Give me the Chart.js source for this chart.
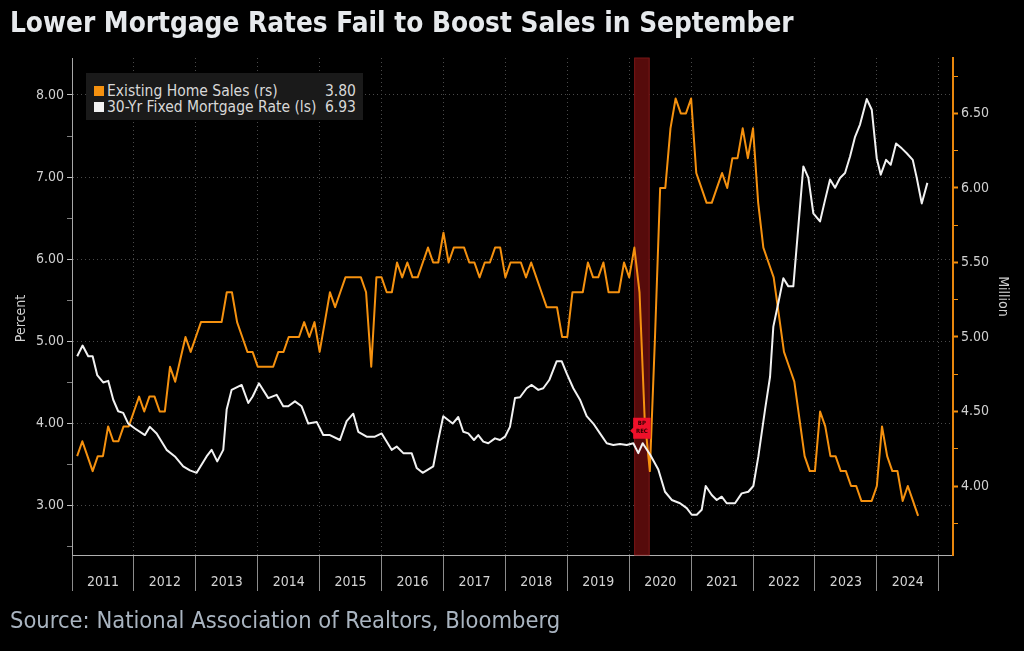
<!DOCTYPE html>
<html lang="en">
<head>
<meta charset="UTF-8">
<title>Lower Mortgage Rates Fail to Boost Sales in September</title>
<script src="https://cdn.jsdelivr.net/npm/chart.js"></script>
<style>
  body { margin: 0; background: #000; }
  #wrap { position: relative; width: 1024px; height: 651px; background: #000; overflow: hidden; }
  #chart { position: absolute; left: 0; top: 0; }
  .title {
    position: absolute; left: 10px; top: 6px; line-height: 32px;
    font: bold 27.7px 'DejaVu Sans Condensed', 'DejaVu Sans', sans-serif;
    color: #e6e9ec; white-space: nowrap;
  }
  .source {
    position: absolute; left: 10px; top: 606px; line-height: 28px;
    font: 23.5px 'DejaVu Sans Condensed', 'DejaVu Sans', sans-serif;
    color: #a9b4c0; white-space: nowrap;
  }
  .legend {
    position: absolute; left: 86px; top: 73px; width: 277px; height: 47px;
    box-sizing: border-box; padding: 10px 7px 0 8px; background: #1a1a1a;
    font: 15.5px 'DejaVu Sans Condensed', 'DejaVu Sans', sans-serif; color: #d8d8d8;
  }
  .legend .row { display: flex; align-items: center; height: 16px; white-space: nowrap; }
  .legend .sw { width: 10px; height: 10px; margin-right: 3px; flex: none; }
  .legend .name { flex: 1; }
</style>
</head>
<body>
<div id="wrap">
  <canvas id="chart" width="1024" height="651"></canvas>
  <div class="title">Lower Mortgage Rates Fail to Boost Sales in September</div>
  <div class="legend" id="legend"></div>
  <div class="source">Source: National Association of Realtors, Bloomberg</div>
</div>

<script>
  const FONT = "'DejaVu Sans Condensed', 'DejaVu Sans', sans-serif";
  const ORANGE = '#f5910f';
  const WHITE = '#f2f2f2';
  const GRID = '#4a4a4a';

  // x axis labels (one per year, drawn between the year boundaries)
  const yearLabels = ['2011', '2012', '2013', '2014', '2015', '2016', '2017',
                      '2018', '2019', '2020', '2021', '2022', '2023', '2024'];
  const leftTicks = [2.5, 3, 3.5, 4, 4.5, 5, 5.5, 6, 6.5, 7, 7.5, 8];
  const rightTicks = [3.75, 4, 4.25, 4.5, 4.75, 5, 5.25, 5.5, 5.75, 6, 6.25, 6.5, 6.75];
  const recession = [2020.08, 2020.33];

  // Existing home sales, million (monthly, Feb 2011 .. Sep 2024)
  const salesStart = [2011, 2];
  const salesValues = [
    4.2, 4.3, 4.2, 4.1, 4.2, 4.2, 4.4, 4.3, 4.3, 4.4, 4.4,
    4.5, 4.6, 4.5, 4.6, 4.6, 4.5, 4.5, 4.8, 4.7, 4.85, 5.0, 4.9,
    5.0, 5.1, 5.1, 5.1, 5.1, 5.1, 5.3, 5.3, 5.1, 5.0, 4.9, 4.9,
    4.8, 4.8, 4.8, 4.8, 4.9, 4.9, 5.0, 5.0, 5.0, 5.1, 5.0, 5.1,
    4.9, 5.1, 5.3, 5.2, 5.3, 5.4, 5.4, 5.4, 5.4, 5.3, 4.8, 5.4,
    5.4, 5.3, 5.3, 5.5, 5.4, 5.5, 5.4, 5.4, 5.5, 5.6, 5.5, 5.5,
    5.7, 5.5, 5.6, 5.6, 5.6, 5.5, 5.5, 5.4, 5.5, 5.5, 5.6, 5.6,
    5.4, 5.5, 5.5, 5.5, 5.4, 5.5, 5.4, 5.3, 5.2, 5.2, 5.2, 5.0,
    5.0, 5.3, 5.3, 5.3, 5.5, 5.4, 5.4, 5.5, 5.3, 5.3, 5.3, 5.5,
    5.4, 5.6, 5.3, 4.45, 4.1, 5.0, 6.0, 6.0, 6.4, 6.6, 6.5, 6.5,
    6.6, 6.1, 6.0, 5.9, 5.9, 6.0, 6.1, 6.0, 6.2, 6.2, 6.4, 6.2,
    6.4, 5.9, 5.6, 5.5, 5.4, 5.15, 4.9, 4.8, 4.7, 4.45, 4.2, 4.1,
    4.1, 4.5, 4.4, 4.2, 4.2, 4.1, 4.1, 4.0, 4.0, 3.9, 3.9, 3.9,
    4.0, 4.4, 4.2, 4.1, 4.1, 3.9, 4.0, 3.9, 3.8
  ];

  // 30-year fixed mortgage rate, percent (dates as decimal years)
  const rateDates = [
    2011.084, 2011.171, 2011.262, 2011.333, 2011.407, 2011.504, 2011.585, 2011.666, 2011.746, 2011.827, 2011.908,
    2012.016, 2012.178, 2012.258, 2012.367, 2012.528, 2012.662, 2012.796, 2012.905,
    2013.013, 2013.174, 2013.255, 2013.346, 2013.443, 2013.498, 2013.578, 2013.740, 2013.847, 2013.918,
    2014.019, 2014.170, 2014.305, 2014.412, 2014.493, 2014.601, 2014.709, 2014.816, 2014.952,
    2015.058, 2015.166, 2015.328, 2015.436, 2015.543, 2015.624, 2015.759, 2015.893,
    2016.002, 2016.163, 2016.244, 2016.351, 2016.486, 2016.567, 2016.664, 2016.835, 2016.916, 2016.997,
    2017.149, 2017.239, 2017.320, 2017.401, 2017.493, 2017.562, 2017.643, 2017.724, 2017.832, 2017.913, 2017.994,
    2018.074, 2018.155, 2018.236, 2018.344, 2018.425, 2018.532, 2018.612, 2018.709, 2018.829, 2018.909, 2018.990,
    2019.097, 2019.205, 2019.313, 2019.420, 2019.528, 2019.637, 2019.743, 2019.852, 2019.960,
    2020.066, 2020.147, 2020.218, 2020.339, 2020.470, 2020.578, 2020.687, 2020.821, 2020.929,
    2021.010, 2021.091, 2021.171, 2021.236, 2021.333, 2021.414, 2021.494, 2021.575, 2021.709, 2021.817, 2021.924,
    2022.005, 2022.086, 2022.194, 2022.275, 2022.328, 2022.409, 2022.490, 2022.570, 2022.651, 2022.732, 2022.813, 2022.894, 2022.974,
    2023.082, 2023.163, 2023.244, 2023.325, 2023.405, 2023.486, 2023.567, 2023.648, 2023.728, 2023.837, 2023.918, 2023.998,
    2024.063, 2024.149, 2024.224, 2024.310, 2024.402, 2024.483, 2024.580, 2024.645, 2024.725, 2024.816
  ];
  const rateValues = [
    4.82, 4.95, 4.82, 4.82, 4.59, 4.50, 4.52, 4.29, 4.15, 4.13, 4.00,
    3.94, 3.86, 3.96, 3.88, 3.68, 3.60, 3.48, 3.43,
    3.40, 3.60, 3.68, 3.54, 3.68, 4.17, 4.41, 4.47, 4.25, 4.33,
    4.49, 4.31, 4.35, 4.21, 4.21, 4.27, 4.21, 4.00, 4.02,
    3.86, 3.86, 3.80, 4.03, 4.12, 3.90, 3.84, 3.84,
    3.88, 3.68, 3.72, 3.64, 3.64, 3.46, 3.40, 3.48, 3.80, 4.09,
    4.00, 4.08, 3.90, 3.88, 3.80, 3.86, 3.78, 3.76, 3.82, 3.80, 3.84,
    3.96, 4.31, 4.32, 4.43, 4.47, 4.41, 4.43, 4.53, 4.76, 4.76, 4.61,
    4.43, 4.29, 4.09, 4.00, 3.88, 3.76, 3.74, 3.75, 3.74,
    3.76, 3.64, 3.76, 3.62, 3.44, 3.17, 3.07, 3.03, 2.97,
    2.89, 2.89, 2.95, 3.24, 3.13, 3.07, 3.11, 3.03, 3.03, 3.15, 3.17,
    3.24, 3.60, 4.17, 4.57, 5.18, 5.47, 5.77, 5.67, 5.67, 6.40, 7.13, 6.99, 6.56,
    6.46, 6.72, 6.97, 6.87, 6.99, 7.05, 7.25, 7.49, 7.64, 7.95, 7.82, 7.23,
    7.03, 7.21, 7.15, 7.41, 7.35, 7.29, 7.21, 6.99, 6.68, 6.93
  ];

  const salesPoints = salesValues.map((v, i) => ({
    x: salesStart[0] + (salesStart[1] - 1 + i) / 12, y: v
  }));
  const ratePoints = rateDates.map((d, i) => ({ x: d, y: rateValues[i] }));

  // legend with last values
  const legendRows = [
    { color: ORANGE, name: 'Existing Home Sales (rs)', last: salesValues[salesValues.length - 1] },
    { color: WHITE, name: '30-Yr Fixed Mortgage Rate (ls)', last: rateValues[rateValues.length - 1] }
  ];
  document.getElementById('legend').innerHTML = legendRows.map(r =>
    `<div class="row"><span class="sw" style="background:${r.color}"></span>` +
    `<span class="name">${r.name}</span><span class="val">${r.last.toFixed(2)}</span></div>`
  ).join('');

  // shaded recession band + REC flag
  const recessionBand = {
    id: 'recessionBand',
    beforeDatasetsDraw(chart) {
      const { ctx, chartArea } = chart;
      const xs = chart.scales.x;
      const x0 = xs.getPixelForValue(recession[0]);
      const x1 = xs.getPixelForValue(recession[1]);
      ctx.save();
      ctx.fillStyle = '#560b0b';
      ctx.fillRect(x0, chartArea.top, x1 - x0, chartArea.bottom - chartArea.top);
      ctx.strokeStyle = '#781616';
      ctx.lineWidth = 1;
      ctx.strokeRect(x0 + 0.5, chartArea.top, x1 - x0 - 1, chartArea.bottom - chartArea.top);
      ctx.restore();
    },
    afterDatasetsDraw(chart) {
      const { ctx } = chart;
      const xs = chart.scales.x;
      const x0 = xs.getPixelForValue(recession[0]) - 1;
      const x1 = xs.getPixelForValue(recession[1]) + 1;
      const yc = chart.scales.y.getPixelForValue(3.95);
      ctx.save();
      ctx.fillStyle = '#f0102a';
      ctx.beginPath();
      ctx.moveTo(x0, yc - 10);
      ctx.lineTo(x1, yc - 10);
      ctx.lineTo(x1, yc + 11);
      ctx.lineTo(x0, yc + 11);
      ctx.lineTo(x0, yc + 6);
      ctx.lineTo(x0 - 3, yc + 3);
      ctx.lineTo(x0, yc);
      ctx.closePath();
      ctx.fill();
      ctx.fillStyle = '#2a0000';
      ctx.font = 'bold 6px ' + FONT;
      ctx.textAlign = 'center';
      ctx.textBaseline = 'middle';
      ctx.fillText('BP', (x0 + x1) / 2, yc - 4);
      ctx.fillText('REC', (x0 + x1) / 2, yc + 4);
      ctx.restore();
    }
  };

  Chart.defaults.font.family = FONT;

  const isWhole = c => c.tick && c.tick.value % 1 === 0;
  const isHalf = c => c.tick && (c.tick.value * 2) % 1 === 0;

  new Chart(document.getElementById('chart'), {
    type: 'line',
    data: {
      datasets: [
        {
          label: '30-Yr Fixed Mortgage Rate (ls)',
          data: ratePoints,
          yAxisID: 'y',
          borderColor: WHITE,
          borderWidth: 2,
          pointRadius: 0,
          borderJoinStyle: 'round',
          tension: 0,
          order: 0
        },
        {
          label: 'Existing Home Sales (rs)',
          data: salesPoints,
          yAxisID: 'y2',
          borderColor: ORANGE,
          borderWidth: 2,
          pointRadius: 0,
          borderJoinStyle: 'round',
          tension: 0,
          order: 1
        }
      ]
    },
    options: {
      responsive: false,
      animation: false,
      layout: { padding: { left: 0, right: 0, top: 58, bottom: 56 } },
      plugins: {
        legend: { display: false },
        tooltip: { enabled: false },
        title: { display: false }
      },
      scales: {
        x: {
          type: 'linear',
          min: 2011,
          max: 2025.23,
          afterBuildTicks: s => { s.ticks = yearLabels.map(l => ({ value: +l + 0.5 })); },
          afterFit: s => { s.height = 40; },
          grid: {
            offset: true,
            color: GRID,
            tickLength: 36,
            tickColor: '#8c8c8c',
            tickBorderDash: [],
            tickWidth: 1
          },
          border: { color: '#b0b0b0', width: 1, dash: [1, 3] },
          ticks: {
            autoSkip: false,
            maxRotation: 0,
            padding: -17,
            color: '#d4d4d4',
            font: { size: 14 },
            callback: (v, i) => yearLabels[i]
          }
        },
        y: {
          position: 'left',
          min: 2.40,
          max: 8.45,
          afterBuildTicks: s => { s.ticks = leftTicks.map(v => ({ value: v })); },
          afterFit: s => { s.width = 72; },
          grid: {
            color: c => isWhole(c) ? GRID : 'rgba(0,0,0,0)',
            tickLength: 5,
            tickColor: c => isWhole(c) ? '#c0c0c0' : '#808080',
            tickBorderDash: []
          },
          border: { color: '#a8a8a8', width: 1, dash: [1, 3] },
          ticks: {
            autoSkip: false,
            padding: 3,
            color: '#d0d0d0',
            font: { size: 14 },
            callback: v => v % 1 === 0 ? v.toFixed(2) : ''
          },
          title: {
            display: true, text: 'Percent\u00a0\u00a0\u00a0\u00a0\u00a0\u00a0', color: '#d0d0d0',
            font: { size: 14 }, padding: { top: 13, bottom: 0 }
          }
        },
        y2: {
          position: 'right',
          min: 3.537,
          max: 6.872,
          afterBuildTicks: s => { s.ticks = rightTicks.map(v => ({ value: v })); },
          afterFit: s => { s.width = 71; },
          grid: {
            drawOnChartArea: false,
            tickLength: 5,
            tickColor: ORANGE,
            tickWidth: c => isHalf(c) ? 2 : 1,
            tickBorderDash: []
          },
          border: { color: '#e8860c', width: 2 },
          ticks: {
            autoSkip: false,
            padding: 3,
            color: '#d0d0d0',
            font: { size: 14 },
            callback: v => (v * 2) % 1 === 0 ? v.toFixed(2) : ''
          },
          title: {
            display: true, text: 'Million\u00a0\u00a0\u00a0\u00a0\u00a0', color: '#d0d0d0',
            font: { size: 14 }, padding: { top: 13, bottom: 0 }
          }
        }
      }
    },
    plugins: [recessionBand]
  });
</script>
</body>
</html>
